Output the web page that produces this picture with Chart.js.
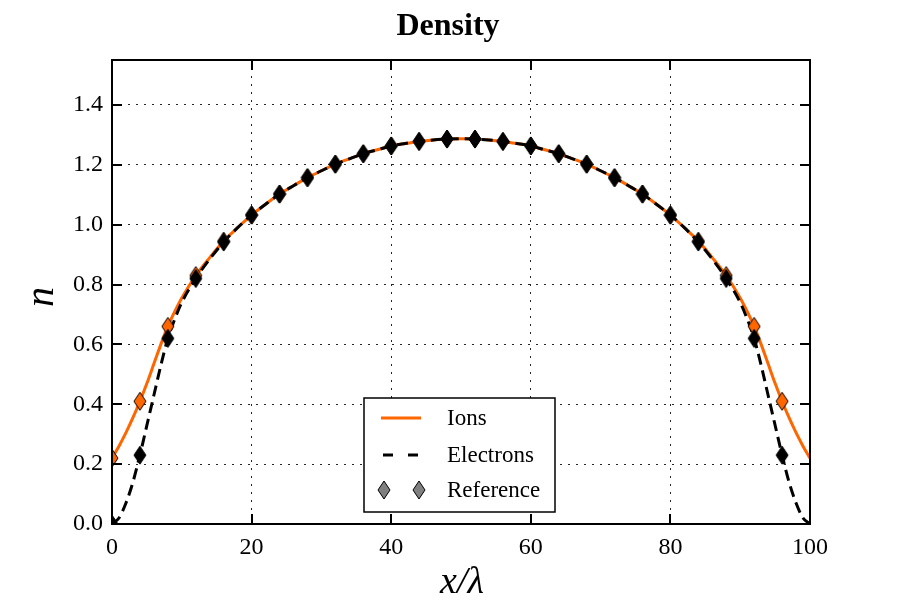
<!DOCTYPE html>
<html><head><meta charset="utf-8">
<script src="https://cdn.jsdelivr.net/npm/chart.js@4/dist/chart.umd.min.js"></script>
<style>html,body{margin:0;padding:0;background:#fff}#w{width:900px;height:600px}</style>
</head><body><div id="w"><canvas id="c" width="900" height="600"></canvas></div>
<script>
// ---- data ----
const lineX     = [0,1,2,3,4,5,6,7,8,9,10,12,14,16,18,20,22,24,26,28,30,32,34,36,38,40,42,44,46,48,50,52,54,56,58,60,62,64,66,68,70,72,74,76,78,80,82,84,86,88,90,91,92,93,94,95,96,97,98,99,100];
const ions      = [0.22,0.26,0.305,0.355,0.41,0.47,0.535,0.60,0.66,0.71,0.755,0.83,0.89,0.945,0.99,1.032,1.068,1.102,1.13,1.157,1.18,1.202,1.22,1.237,1.25,1.263,1.271,1.278,1.283,1.286,1.287,1.286,1.283,1.278,1.271,1.263,1.25,1.237,1.22,1.202,1.18,1.157,1.13,1.102,1.068,1.032,0.99,0.945,0.89,0.83,0.755,0.71,0.66,0.60,0.535,0.47,0.41,0.355,0.305,0.26,0.22];
const electrons = [0.0,0.02,0.07,0.14,0.23,0.33,0.43,0.53,0.62,0.685,0.74,0.82,0.885,0.942,0.99,1.032,1.068,1.102,1.13,1.157,1.18,1.202,1.22,1.237,1.25,1.263,1.271,1.278,1.283,1.286,1.287,1.286,1.283,1.278,1.271,1.263,1.25,1.237,1.22,1.202,1.18,1.157,1.13,1.102,1.068,1.032,0.99,0.942,0.885,0.82,0.74,0.685,0.62,0.53,0.43,0.33,0.23,0.14,0.07,0.02,0.0];
const refX      = [0,4,8,12,16,20,24,28,32,36,40,44,48,52,56,60,64,68,72,76,80,84,88,92,96];
const ionRef    = [0.22,0.41,0.66,0.83,0.945,1.032,1.102,1.157,1.202,1.237,1.263,1.278,1.286,1.286,1.278,1.263,1.237,1.202,1.157,1.102,1.032,0.945,0.83,0.66,0.41];
const elecRef   = [0.0,0.23,0.62,0.82,0.942,1.032,1.102,1.157,1.202,1.237,1.263,1.278,1.286,1.286,1.278,1.263,1.237,1.202,1.157,1.102,1.032,0.942,0.82,0.62,0.23];
const xTicks    = [0,20,40,60,80,100];
const yTicks    = [0,0.2,0.4,0.6,0.8,1.0,1.2,1.4];
const labels    = {title:'Density', x:'x/λ', y:'n', ions:'Ions', electrons:'Electrons', reference:'Reference'};

const ORANGE = '#ff6600';
const SERIF = '"Liberation Serif","DejaVu Serif",serif';

function diamond(fill, w, h) {
  const c = document.createElement('canvas');
  c.width = w + 2; c.height = h + 2;
  const g = c.getContext('2d');
  g.beginPath();
  g.moveTo(c.width/2, 1); g.lineTo(w + 1, c.height/2);
  g.lineTo(c.width/2, h + 1); g.lineTo(1, c.height/2); g.closePath();
  g.fillStyle = fill; g.fill();
  g.lineWidth = 1; g.strokeStyle = '#000'; g.stroke();
  return c;
}
const dOrange = diamond(ORANGE, 12, 18);
const dBlack  = diamond('#000', 12, 18);
const dGray   = diamond('#808080', 12, 18);

const pts = (xs, ys) => xs.map((x, i) => ({x, y: ys[i]}));

const frame = {
  id: 'frame',
  afterDraw(chart) {
    const {ctx, chartArea: a, scales} = chart;
    ctx.save();
    ctx.strokeStyle = '#000'; ctx.lineWidth = 2;
    ctx.beginPath();
    xTicks.forEach(v => {
      const px = Math.round(scales.x.getPixelForValue(v));
      ctx.moveTo(px, a.bottom); ctx.lineTo(px, a.bottom - 10);
      ctx.moveTo(px, a.top); ctx.lineTo(px, a.top + 10);
    });
    yTicks.forEach(v => {
      const py = Math.round(scales.y.getPixelForValue(v));
      ctx.moveTo(a.left, py); ctx.lineTo(a.left + 10, py);
      ctx.moveTo(a.right, py); ctx.lineTo(a.right - 10, py);
    });
    ctx.stroke();
    ctx.lineWidth = 2;
    ctx.strokeRect(a.left, a.top, a.right - a.left, a.bottom - a.top);

    // legend
    const L = 364, T = 398, R = 555, B = 512;
    ctx.fillStyle = '#fff'; ctx.fillRect(L, T, R - L, B - T);
    ctx.lineWidth = 1.5; ctx.strokeStyle = '#000'; ctx.strokeRect(L, T, R - L, B - T);
    ctx.lineWidth = 3;
    ctx.strokeStyle = ORANGE; ctx.setLineDash([]);
    ctx.beginPath(); ctx.moveTo(381, 418); ctx.lineTo(421, 418); ctx.stroke();
    ctx.strokeStyle = '#000'; ctx.setLineDash([10, 15]);
    ctx.beginPath(); ctx.moveTo(383, 455); ctx.lineTo(421, 455); ctx.stroke();
    ctx.setLineDash([]);
    ctx.drawImage(dGray, 384 - dGray.width/2, 490 - dGray.height/2);
    ctx.drawImage(dGray, 419 - dGray.width/2, 490 - dGray.height/2);
    ctx.fillStyle = '#000'; ctx.font = '23px ' + SERIF;
    ctx.textAlign = 'left'; ctx.textBaseline = 'middle';
    ctx.fillText(labels.ions, 447, 419);
    ctx.fillText(labels.electrons, 447, 456);
    ctx.fillText(labels.reference, 447, 491);

    // title and axis titles
    ctx.textAlign = 'center'; ctx.textBaseline = 'alphabetic';
    ctx.font = 'bold 32px ' + SERIF;
    ctx.fillText(labels.title, 448, 35);
    ctx.font = 'italic 38px ' + SERIF;
    ctx.fillText(labels.x, 462, 593);
    ctx.save();
    ctx.translate(53, 297); ctx.rotate(-Math.PI/2);
    ctx.font = 'italic 40px ' + SERIF;
    ctx.fillText(labels.y, 0, 0);
    ctx.restore();
    ctx.restore();
  }
};

new Chart(document.getElementById('c'), {
  type: 'scatter',
  data: {
    datasets: [
      {label: labels.ions, data: pts(lineX, ions), showLine: true, borderColor: ORANGE, borderWidth: 3, pointRadius: 0, cubicInterpolationMode: 'monotone', order: 4},
      {label: labels.electrons, data: pts(lineX, electrons), showLine: true, borderColor: '#000', borderWidth: 3, borderDash: [11, 6], pointRadius: 0, cubicInterpolationMode: 'monotone', order: 3},
      {label: labels.reference, data: pts(refX, ionRef), pointStyle: dOrange, pointRadius: 7, order: 2},
      {label: labels.reference, data: pts(refX, elecRef), pointStyle: dBlack, pointRadius: 7, order: 1}
    ]
  },
  options: {
    responsive: false, animation: false,
    layout: {padding: {top: 60, right: 90, left: 0, bottom: 0}},
    plugins: {legend: {display: false}, title: {display: false}, tooltip: {enabled: false}},
    scales: {
      x: {
        type: 'linear', min: 0, max: 100,
        afterFit(s) { s.height = 76; },
        afterBuildTicks(s) { s.ticks = xTicks.map(v => ({value: v})); },
        ticks: {padding: 9, color: '#000', font: {family: SERIF, size: 24}, maxRotation: 0},
        grid: {color: 'rgba(0,0,0,0.85)', lineWidth: 1, drawTicks: false},
        border: {display: false, dash: [2, 6]}
      },
      y: {
        type: 'linear', min: 0, max: 1.55,
        afterFit(s) { s.width = 112; },
        afterBuildTicks(s) { s.ticks = yTicks.map(v => ({value: v})); },
        ticks: {padding: 9, color: '#000', font: {family: SERIF, size: 24}, callback: v => Number(v).toFixed(1)},
        grid: {color: 'rgba(0,0,0,0.85)', lineWidth: 1, drawTicks: false},
        border: {display: false, dash: [2, 6]}
      }
    }
  },
  plugins: [frame]
});
</script></body></html>
